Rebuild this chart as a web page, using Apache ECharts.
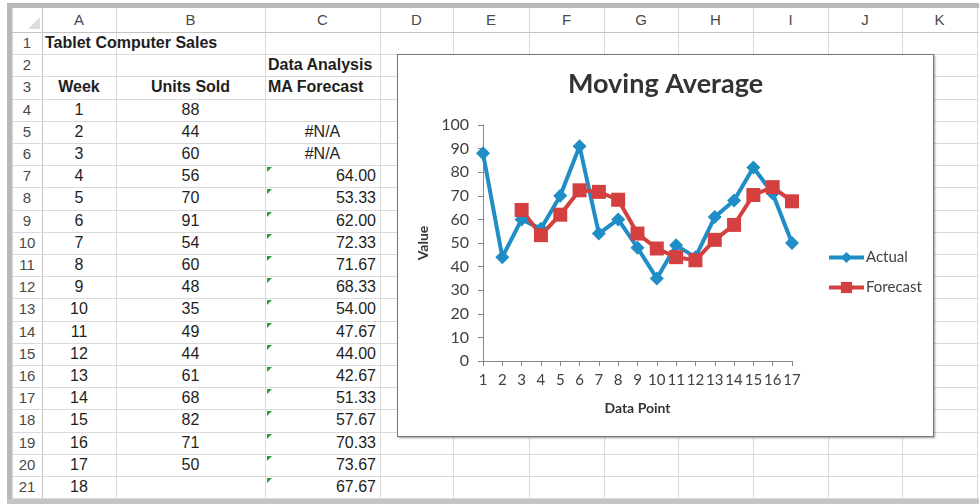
<!DOCTYPE html>
<html><head><meta charset="utf-8">
<script src="https://cdn.jsdelivr.net/npm/echarts@6/dist/echarts.min.js"></script>
<style>
html,body{margin:0;padding:0;background:#fff;width:979px;height:504px;overflow:hidden;font-family:"Liberation Sans",Arial,sans-serif;}
#sheet{position:absolute;left:0;top:0;width:979px;height:504px;}
.hl{position:absolute;height:1px;background:#dadada;}
.vl{position:absolute;width:1px;background:#dadada;}
.t{position:absolute;font-size:16px;color:#1e1e1e;white-space:nowrap;}
.h{color:#4a4a4a;font-size:15px;}
.b{font-weight:bold;}
.tri{position:absolute;width:0;height:0;border-top:5px solid #2a9a3a;border-right:5px solid transparent;}
#chartBox{position:absolute;left:397px;top:54px;width:535px;height:381px;border:1px solid #7a7a7a;background:#fff;box-shadow:1px 1px 2px rgba(0,0,0,.4);}
#chart{width:535px;height:381px;}
</style></head>
<body>
<div id="sheet"></div>
<div id="chartBox"><div id="chart"></div></div>
<script>
// ---- data ----
const colLetters = ['A','B','C','D','E','F','G','H','I','J','K'];
const sheetTitle = 'Tablet Computer Sales';
const headerWeek = 'Week';
const headerUnits = 'Units Sold';
const headerC2 = 'Data Analysis';
const headerC3 = 'MA Forecast';
const weeks = [1,2,3,4,5,6,7,8,9,10,11,12,13,14,15,16,17,18];
const unitsSold = [88,44,60,56,70,91,54,60,48,35,49,44,61,68,82,71,50];
// column C, rows 5..21
const maForecastCells = [null,null,64.00,53.33,62.00,72.33,71.67,68.33,54.00,47.67,44.00,42.67,51.33,57.67,70.33,73.67,67.67];
const dataPoints = ['1','2','3','4','5','6','7','8','9','10','11','12','13','14','15','16','17'];
const actualSeries = [88,44,60,56,70,91,54,60,48,35,49,44,61,68,82,71,50];
const forecastSeries = [null,null,64.00,53.33,62.00,72.33,71.67,68.33,54.00,47.67,44.00,42.67,51.33,57.67,70.33,73.67,67.67];
const chartTitle = 'Moving Average';
const xAxisName = 'Data Point';
const yAxisName = 'Value';

// ---- spreadsheet layout ----
const sheet = document.getElementById('sheet');
const colX = [12,42,116,265,380,453,529,604,678,753,828,902,977];
const headTop = 8, firstRowTop = 32, rowH = 22.2, nRows = 21;
function el(cls, style, text){
  const d=document.createElement('div'); d.className=cls;
  Object.assign(d.style, style); if(text!==undefined) d.textContent=text;
  sheet.appendChild(d); return d;
}
// frame
el('', {position:'absolute',left:'7px',top:'3px',width:'972px',height:'5px',background:'#b8b8b8'});
el('', {position:'absolute',left:'7px',top:'3px',width:'5px',height:'501px',background:'#b8b8b8'});
el('', {position:'absolute',left:'7px',top:'499px',width:'972px',height:'5px',background:'#c4c4c4'});
// grid lines
const bottomY = firstRowTop + nRows*rowH;
for(let i=0;i<colX.length;i++){
  el('vl', {left:colX[i]+'px', top:headTop+'px', height:(bottomY-headTop)+'px', background: i===1?'#c4c4c4':'#dadada'});
}
for(let r=0;r<=nRows;r++){
  const y = Math.round(firstRowTop + r*rowH);
  el('hl', {left:'12px', top:y+'px', width:'967px', background: r===0?'#c4c4c4':'#dadada'});
}
// corner triangle
el('', {position:'absolute',left:'28px',top:'17px',width:0,height:0,borderLeft:'12px solid transparent',borderBottom:'12px solid #dcdcdc'});
function cell(ci, row, text, align, extra){
  const x0=colX[ci], x1=colX[ci+1];
  const top = row===0 ? headTop : firstRowTop+(row-1)*rowH;
  const h = row===0 ? firstRowTop-headTop : rowH;
  const st = {top:top+'px', height:h+'px', lineHeight:h+'px'};
  if(align==='center'){ st.left=x0+'px'; st.width=(x1-x0)+'px'; st.textAlign='center'; }
  else if(align==='left'){ st.left=(x0+3)+'px'; }
  else { st.left=x0+'px'; st.width=(x1-x0-4)+'px'; st.textAlign='right'; }
  return el('t '+(extra||''), st, text);
}
colLetters.forEach((c,i)=>cell(i+1,0,c,'center','h'));
for(let r=1;r<=nRows;r++) cell(0,r,String(r),'center','h');
cell(1,1,sheetTitle,'left','b');
cell(3,2,headerC2,'left','b');
cell(1,3,headerWeek,'center','b');
cell(2,3,headerUnits,'center','b');
cell(3,3,headerC3,'left','b');
weeks.forEach((w,i)=>cell(1,4+i,String(w),'center'));
unitsSold.forEach((u,i)=>cell(2,4+i,String(u),'center'));
maForecastCells.forEach((v,i)=>{
  const row=5+i;
  if(v===null) cell(3,row,'#N/A','center');
  else {
    cell(3,row,v.toFixed(2),'right');
    el('tri',{left:(colX[3]+2)+'px', top:(Math.round(firstRowTop+(row-1)*rowH)+2)+'px'});
  }
});

// ---- chart ----
const chart = echarts.init(document.getElementById('chart'), null, {renderer:'canvas'});
const axisColor = '#868686';
const blue = '#1f8dc6', red = '#d3403f';
chart.setOption({
  animation:false,
  backgroundColor:'#fff',
  textStyle:{fontFamily:'Lato'},
  title:{text:chartTitle, left:'center', top:16, padding:0,
    textStyle:{fontFamily:'Lato', fontSize:27, fontWeight:'bold', color:'#333'}},
  legend:{orient:'vertical', left:424, top:190, itemWidth:35, itemHeight:14, itemGap:15,
    textStyle:{fontFamily:'Lato', fontSize:15, color:'#404040', padding:[0,0,0,-3]},
    lineStyle:{width:4},
    data:['Actual','Forecast']},
  grid:{left:85, top:70, width:309, height:236, containLabel:false},
  xAxis:{type:'category', data:dataPoints, boundaryGap:false,
    axisLine:{lineStyle:{color:axisColor, width:1}},
    axisTick:{show:true, length:5, lineStyle:{color:axisColor}},
    axisLabel:{interval:0, fontSize:15, color:'#404040', margin:12, fontFamily:'Lato'},
    splitLine:{show:false},
    name:xAxisName, nameLocation:'middle', nameGap:40,
    nameTextStyle:{fontFamily:'Lato', fontSize:14, fontWeight:'bold', color:'#333'}},
  yAxis:{type:'value', min:0, max:100, interval:10,
    axisLine:{show:true, lineStyle:{color:axisColor, width:1}},
    axisTick:{show:true, length:5, lineStyle:{color:axisColor}},
    axisLabel:{fontSize:16, color:'#404040', margin:14, fontFamily:'Lato'},
    splitLine:{show:false},
    name:yAxisName, nameLocation:'middle', nameGap:43, nameRotate:90,
    nameTextStyle:{fontFamily:'Lato', fontSize:14, fontWeight:'bold', color:'#333'}},
  series:[
    {name:'Actual', type:'line', data:actualSeries, symbol:'diamond', symbolSize:14,
      lineStyle:{width:4, color:blue}, itemStyle:{color:blue}},
    {name:'Forecast', type:'line', data:forecastSeries, symbol:'rect', symbolSize:14, connectNulls:false,
      lineStyle:{width:4, color:red}, itemStyle:{color:red}}
  ]
});
</script>
</body></html>
